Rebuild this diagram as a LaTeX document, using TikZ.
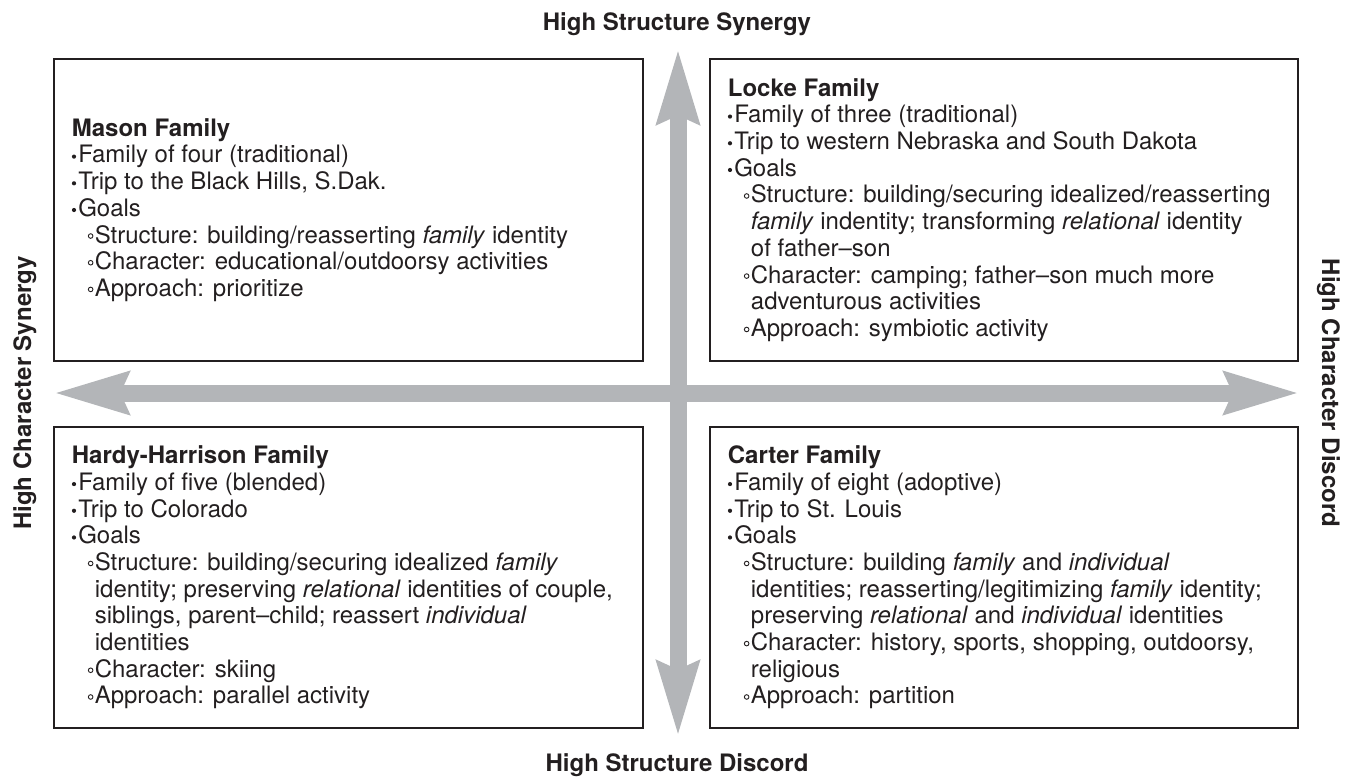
\documentclass[tikz,border=0pt]{standalone}
\usepackage{fontspec}
\setmainfont{TeX Gyre Heros}
\usetikzlibrary{arrows.meta}
\definecolor{arrowgray}{RGB}{179,181,184}
\definecolor{ink}{RGB}{35,31,32}
\newcommand\bul{\tikz[baseline=0pt]\fill (0,6.3pt) circle (2.1pt);\hspace{2.2pt}}
\newcommand\obul{\tikz[baseline=0pt]\draw[line width=0.9pt] (0,7pt) circle (2.3pt);\hspace{1.4pt}}
\newcommand\subi{\hspace*{16pt}\obul}
\newcommand\cont{\hspace*{23pt}}
\begin{document}
\begin{tikzpicture}[x=1pt,y=-1pt,
  famb/.style={draw=ink,line width=2.6pt,minimum width=589pt,minimum height=302pt,inner sep=0pt},
  famt/.style={anchor=west,inner sep=0pt,align=left,text=ink,font=\fontsize{24}{26.7}\selectfont},
  arr/.style={draw=arrowgray,line width=17pt,{Stealth[length=74pt,width=40pt,inset=7pt]}-{Stealth[length=74pt,width=40pt,inset=7pt]}},
  axislab/.style={text=ink,font=\fontsize{24}{26}\selectfont\bfseries,inner sep=0pt}]
\useasboundingbox (0,0) rectangle (1350,780);
% axes
\coordinate (hl) at (53,393);
\coordinate (hr) at (1300,393);
\coordinate (vt) at (678,48);
\coordinate (vb) at (678,737);
\draw[arr] (hl) -- (hr);
\draw[arr] (vt) -- (vb);
% boxes
\node[famb] (mbox) at (348.5,210) {};
\node[famb,minimum width=588pt] (lbox) at (1004,210) {};
\node[famb,minimum height=301pt] (hbox) at (348.5,577.5) {};
\node[famb,minimum width=588pt,minimum height=301pt] (cbox) at (1004,577.5) {};
\node[famt] (mtxt) at ([xshift=19pt]mbox.west) {\textbf{Mason Family}\\
\bul Family of four (traditional)\\
\bul Trip to the Black Hills, S.Dak.\\
\bul Goals\\
\subi Structure: building/reasserting \textit{family} identity\\
\subi Character: educational/outdoorsy activities\\
\subi Approach: prioritize};
\node[famt] (ltxt) at ([xshift=19pt]lbox.west) {\textbf{Locke Family}\\
\bul Family of three (traditional)\\
\bul Trip to western Nebraska and South Dakota\\
\bul Goals\\
\subi Structure: building/securing idealized/reasserting\\
\cont\textit{family} indentity; transforming \textit{relational} identity\\
\cont of father--son\\
\subi Character: camping; father--son much more\\
\cont adventurous activities\\
\subi Approach: symbiotic activity};
\node[famt] (htxt) at ([xshift=19pt]hbox.west) {\textbf{Hardy-Harrison Family}\\
\bul Family of five (blended)\\
\bul Trip to Colorado\\
\bul Goals\\
\subi Structure: building/securing idealized \textit{family}\\
\cont identity; preserving \textit{relational} identities of couple,\\
\cont siblings, parent--child; reassert \textit{individual}\\
\cont identities\\
\subi Character: skiing\\
\subi Approach: parallel activity};
\node[famt] (ctxt) at ([xshift=19pt]cbox.west) {\textbf{Carter Family}\\
\bul Family of eight (adoptive)\\
\bul Trip to St. Louis\\
\bul Goals\\
\subi Structure: building \textit{family} and \textit{individual}\\
\cont identities; reasserting/legitimizing \textit{family} identity;\\
\cont preserving \textit{relational} and \textit{individual} identities\\
\subi Character: history, sports, shopping, outdoorsy,\\
\cont religious\\
\subi Approach: partition};
% axis labels
\node[axislab,anchor=base] (tlab) at (677,30) {High Structure Synergy};
\node[axislab,anchor=base] (blab) at (677,771) {High Structure Discord};
\node[axislab,anchor=base,rotate=90] (llab) at (31,393) {High Character Synergy};
\node[axislab,anchor=base,rotate=-90] (rlab) at (1322,393) {High Character Discord};
\end{tikzpicture}
\end{document}
